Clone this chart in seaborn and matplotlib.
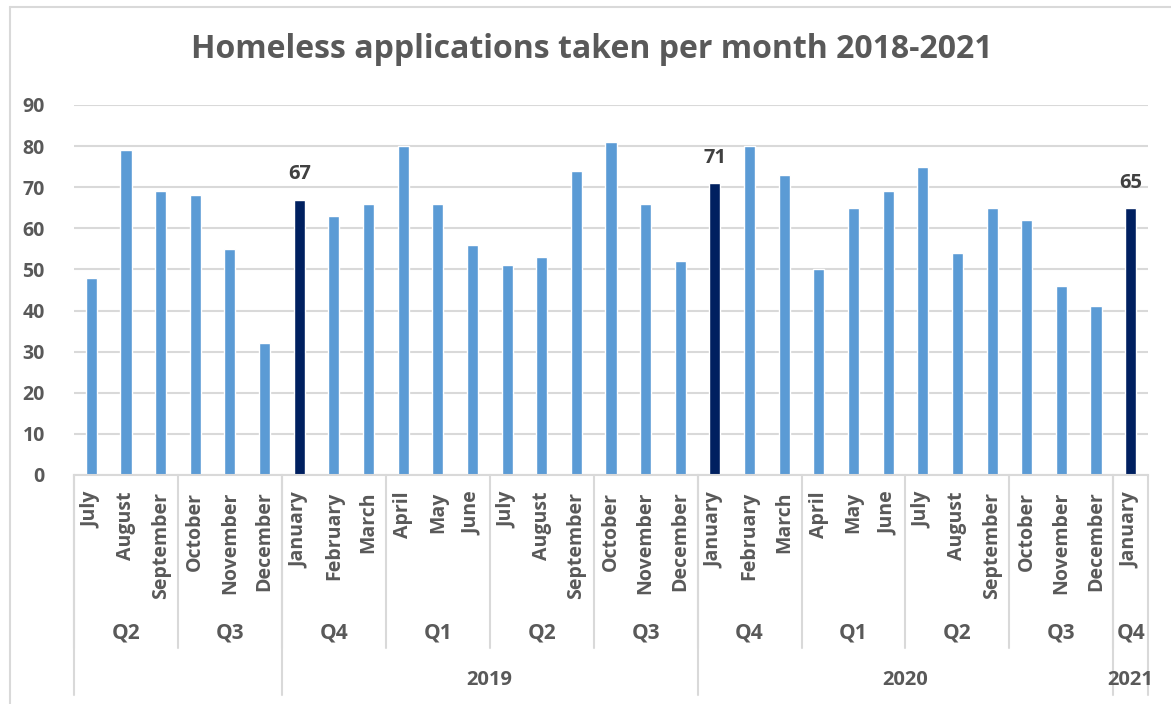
import matplotlib
matplotlib.use("Agg")
import matplotlib.pyplot as plt
import matplotlib.transforms as mtransforms
import seaborn as sns
import pandas as pd

# Monthly homeless applications, July 2018 - January 2021
months = ["July", "August", "September", "October", "November", "December",
          "January", "February", "March", "April", "May", "June",
          "July", "August", "September", "October", "November", "December",
          "January", "February", "March", "April", "May", "June",
          "July", "August", "September", "October", "November", "December",
          "January"]
applications = [48, 79, 69, 68, 55, 32,
                67, 63, 66, 80, 66, 56,
                51, 53, 74, 81, 66, 52,
                71, 80, 73, 50, 65, 69,
                75, 54, 65, 62, 46, 41,
                65]
# bars shown in dark navy with a value label (start of each year)
highlighted = [6, 18, 30]

# quarter groups: (label, number of months)
quarters = [("Q2", 3), ("Q3", 3), ("Q4", 3), ("Q1", 3), ("Q2", 3), ("Q3", 3),
            ("Q4", 3), ("Q1", 3), ("Q2", 3), ("Q3", 3), ("Q4", 1)]
# year groups: (label, number of months)
years = [("", 6), ("2019", 12), ("2020", 12), ("2021", 1)]

LIGHT = "#5B9BD5"
DARK = "#002060"
TEXT = "#595959"
GRID = "#D9D9D9"
FONT = ["Open Sans", "DejaVu Sans"]

df = pd.DataFrame({
    "slot": list(range(len(months))),
    "month": months,
    "applications": applications,
    "kind": ["start" if i in highlighted else "month" for i in range(len(months))],
})

sns.set_theme(style="white")
plt.rcParams["font.family"] = FONT
plt.rcParams["font.weight"] = "bold"

W, H = 1171, 704
fig = plt.figure(figsize=(W / 100, H / 100), dpi=100)
ax_left, ax_right, ax_top, ax_bottom = 74, 1148, 105, 475
ax = fig.add_axes([ax_left / W, 1 - ax_bottom / H,
                   (ax_right - ax_left) / W, (ax_bottom - ax_top) / H])

sns.barplot(data=df, x="slot", y="applications", hue="kind",
            palette={"month": LIGHT, "start": DARK}, dodge=False,
            width=0.32, legend=False, ax=ax, saturation=1)

n = len(months)
ax.set_xlim(-0.5, n - 0.5)
ax.set_ylim(0, 90)
ax.set_yticks(range(0, 91, 10))
ax.yaxis.grid(True, color=GRID, linewidth=1.5)
ax.set_axisbelow(True)
for s in ["top", "right", "left"]:
    ax.spines[s].set_visible(False)
ax.spines["bottom"].set_color(GRID)
ax.spines["bottom"].set_linewidth(1.5)
ax.set_xlabel("")
ax.set_ylabel("")
ax.tick_params(axis="y", length=0, pad=21, labelsize=14, labelcolor=TEXT)
ax.set_xticks(range(n))
ax.set_xticklabels(months, rotation=90, fontsize=14, color=TEXT, fontweight="bold")
ax.tick_params(axis="x", length=0, pad=12)
for lbl in ax.get_yticklabels():
    lbl.set_fontweight("bold")

# value labels on highlighted bars
for i in highlighted:
    ax.annotate(f"{applications[i]}", xy=(i, applications[i]), xytext=(0, 11),
                textcoords="offset points", ha="center", va="bottom",
                fontsize=14.5, fontweight="bold", color="#404040")

# multi-level category axis (quarters, years)
trans = mtransforms.blended_transform_factory(ax.transData, ax.transAxes)
span = ax_bottom - ax_top


def ay(py):
    return (ax_bottom - py) / span


pos = -0.5
for label, cnt in quarters:
    ax.text(pos + cnt / 2, ay(633), label, transform=trans, ha="center", va="center",
            fontsize=15, fontweight="bold", color=TEXT)
    ax.plot([pos, pos], [ay(ax_bottom), ay(648)], transform=trans, color=GRID,
            lw=1.5, clip_on=False)
    pos += cnt

pos = -0.5
for label, cnt in years:
    if label:
        ax.text(pos + cnt / 2, ay(680), label, transform=trans, ha="center", va="center",
                fontsize=14.5, fontweight="bold", color=TEXT)
    ax.plot([pos, pos], [ay(ax_bottom), ay(695)], transform=trans, color=GRID,
            lw=1.5, clip_on=False)
    pos += cnt
ax.plot([pos, pos], [ay(ax_bottom), ay(695)], transform=trans, color=GRID,
        lw=1.5, clip_on=False)

fig.text(0.505, 1 - 50 / H, "Homeless applications taken per month 2018-2021",
         ha="center", va="center", fontsize=23, fontweight="bold", color=TEXT)

# chart frame
fig.add_artist(plt.Line2D([10 / W, 10 / W], [0, 1 - 7 / H], color=GRID, lw=1.5))
fig.add_artist(plt.Line2D([10 / W, 1], [1 - 7 / H, 1 - 7 / H], color=GRID, lw=1.5))

fig.savefig("out.png", dpi=100, facecolor="white")
